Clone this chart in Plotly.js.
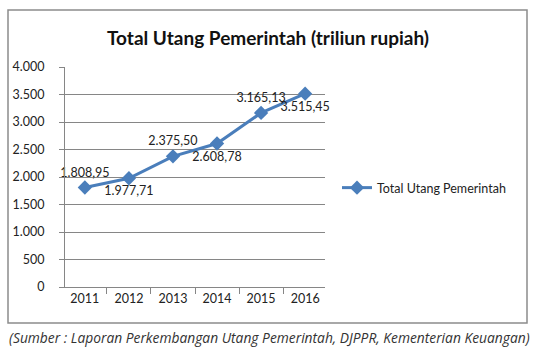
<!DOCTYPE html>
<html>
<head>
<meta charset="utf-8">
<script src="https://cdn.plot.ly/plotly-3.0.1.min.js"></script>
<style>html,body{margin:0;padding:0;background:#fff;}#chart{width:542px;height:356px;}</style>
</head>
<body>
<div id="chart"></div>
<script>
var years = ['2011', '2012', '2013', '2014', '2015', '2016'];
var utang = [1808.95, 1977.71, 2375.50, 2608.78, 3165.13, 3515.45];
var labelPos = ['top center', 'bottom center', 'top center', 'bottom center', 'top center', 'bottom center'];
var yTicks = [0, 500, 1000, 1500, 2000, 2500, 3000, 3500, 4000];
var seriesName = 'Total Utang Pemerintah';
var titleText = 'Total Utang Pemerintah (triliun rupiah)';
var sourceText = '(Sumber : Laporan Perkembangan Utang Pemerintah, DJPPR, Kementerian Keuangan)';

var W = 542, H = 356;
var L = 65, R = 325, T = 67, B = 287;
function px(x) { return (x - L) / (R - L); }
function py(y) { return (B - y) / (B - T); }

var trace = {
  x: years, y: utang, type: 'scatter', mode: 'lines+markers+text',
  name: seriesName,
  line: {color: '#4A7EBB', width: 3},
  marker: {symbol: 'diamond', size: 11, color: '#4A7EBB'},
  text: utang, texttemplate: '%{y:,.2f}', textposition: labelPos,
  textfont: {family: 'Lato, sans-serif', size: 12.5, color: '#222'},
  cliponaxis: false
};

var layout = {
  width: W, height: H,
  margin: {l: L, r: W - R, t: T, b: H - B, pad: 0},
  paper_bgcolor: '#fff', plot_bgcolor: '#fff',
  separators: ',.',
  font: {family: 'Lato, sans-serif', size: 12, color: '#222'},
  title: {text: titleText, x: 268 / W, xanchor: 'center', y: 1 - 38 / H, yanchor: 'middle',
          font: {family: 'Lato, sans-serif', size: 19, color: '#111', weight: 'bold'}},
  xaxis: {type: 'category', showgrid: false, showline: true, linecolor: '#868686', linewidth: 1,
          ticks: 'outside', tickson: 'boundaries', ticklen: 6, tickcolor: '#868686',
          tickfont: {family: 'Lato, sans-serif', size: 12.5, color: '#222'}, fixedrange: true, zeroline: false},
  yaxis: {range: [0, 4000], tickvals: yTicks, tickformat: ',d', showgrid: true, gridcolor: '#868686', gridwidth: 1,
          showline: true, linecolor: '#868686', linewidth: 1, ticks: 'outside', ticklen: 5, tickcolor: '#868686',
          ticklabelstandoff: 12,
          tickfont: {family: 'Lato, sans-serif', size: 12.5, color: '#222'}, zeroline: false, fixedrange: true},
  showlegend: true,
  legend: {x: px(337), xanchor: 'left', y: py(188), yanchor: 'middle', bgcolor: 'rgba(0,0,0,0)',
           font: {family: 'Lato, sans-serif', size: 12.5, color: '#222'}, itemwidth: 30},
  shapes: [{type: 'rect', xref: 'paper', yref: 'paper', x0: px(8), x1: px(527), y0: py(323), y1: py(10),
            line: {color: '#8c8c8c', width: 1.5}, fillcolor: 'rgba(0,0,0,0)', layer: 'below'}],
  annotations: [{text: sourceText, xref: 'paper', yref: 'paper', x: px(269), y: py(337), xanchor: 'center', yanchor: 'middle',
                 showarrow: false, font: {family: 'Open Sans, sans-serif', size: 13.8, color: '#333', style: 'italic'}}]
};

Plotly.newPlot('chart', [trace], layout, {displayModeBar: false, staticPlot: true});
</script>
</body>
</html>
